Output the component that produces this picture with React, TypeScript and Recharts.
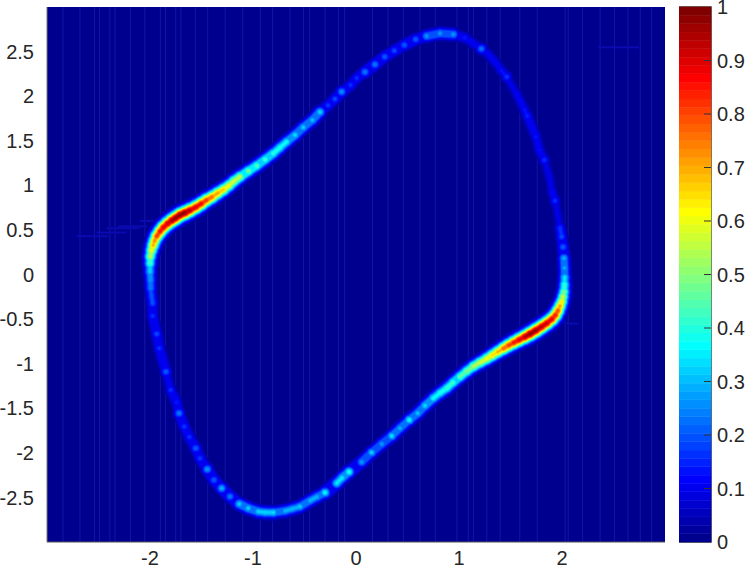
import React from "react";
import { Bar, BarChart, ReferenceArea, ReferenceLine, Scatter, ScatterChart, XAxis, YAxis } from "recharts";

const xTicks = [-2, -1, 0, 1, 2];
const yTicks = [-2.5, -2, -1.5, -1, -0.5, 0, 0.5, 1, 1.5, 2, 2.5];
const barTicks = [0, 0.1, 0.2, 0.3, 0.4, 0.5, 0.6, 0.7, 0.8, 0.9, 1];

// limit cycle, going round from the lower left
const cycleX = [
  -1.935, -1.91, -1.845, -1.822, -1.799, -1.741, -1.718, -1.667, -1.618, -1.556, -1.515, -1.444, -1.379, -1.304, -1.223, -1.133,
  -1.046, -0.949, -0.883, -0.803, -0.689, -0.621, -0.544, -0.447, -0.379, -0.301, -0.187, -0.136, -0.068, 0.055, 0.152, 0.25,
  0.347, 0.427, 0.517, 0.599, 0.67, 0.75, 0.816, 0.881, 0.942, 1.01, 1.073, 1.139, 1.204, 1.269,
  1.32, 1.374, 1.43, 1.479, 1.529, 1.58, 1.636, 1.689, 1.748, 1.803, 1.854, 1.903, 1.937, 1.961,
  1.981, 1.997, 2.01, 2.019, 2.024, 2.026, 2.024, 2.019, 2.01, 1.997, 1.981, 1.954, 1.932, 1.903, 1.883, 1.828,
  1.78, 1.748, 1.663, 1.634, 1.56, 1.512, 1.463, 1.408, 1.35, 1.284, 1.217, 1.139, 1.058, 0.945, 0.816, 0.686,
  0.58, 0.469, 0.372, 0.279, 0.184, 0.087, 0.007, -0.053, -0.139, -0.204, -0.272, -0.35, -0.424, -0.512, -0.592, -0.673,
  -0.738, -0.803, -0.883, -0.964, -1.044, -1.126, -1.184, -1.233, -1.286, -1.34, -1.398, -1.45, -1.5, -1.553, -1.612, -1.66,
  -1.709, -1.752, -1.789, -1.83, -1.871, -1.903, -1.935, -1.956, -1.971, -1.985, -1.997, -2, -2, -1.995, -1.993, -1.985,
  -1.974, -1.974,
];
const cycleY = [
  -0.667, -0.827, -1.09, -1.202, -1.295, -1.433, -1.556, -1.706, -1.822, -1.948, -2.061, -2.184, -2.304, -2.397, -2.491, -2.573,
  -2.621, -2.659, -2.668, -2.67, -2.651, -2.629, -2.603, -2.536, -2.494, -2.446, -2.341, -2.281, -2.214, -2.102, -1.996, -1.9,
  -1.811, -1.724, -1.631, -1.556, -1.471, -1.388, -1.328, -1.276, -1.211, -1.146, -1.087, -1.031, -0.987, -0.945,
  -0.908, -0.869, -0.83, -0.796, -0.765, -0.734, -0.701, -0.667, -0.626, -0.585, -0.544, -0.499, -0.454, -0.404,
  -0.353, -0.305, -0.247, -0.193, -0.112, -0.031, 0.073, 0.182, 0.308, 0.424, 0.521, 0.704, 0.827, 0.928, 1.071, 1.284,
  1.396, 1.545, 1.777, 1.852, 2.024, 2.117, 2.217, 2.293, 2.386, 2.469, 2.531, 2.592, 2.655, 2.693, 2.704, 2.674,
  2.637, 2.573, 2.509, 2.442, 2.356, 2.27, 2.203, 2.124, 2.049, 1.968, 1.897, 1.822, 1.732, 1.65, 1.564, 1.489,
  1.424, 1.359, 1.289, 1.22, 1.16, 1.096, 1.048, 0.998, 0.953, 0.914, 0.869, 0.835, 0.796, 0.757, 0.72, 0.693,
  0.667, 0.633, 0.605, 0.57, 0.527, 0.482, 0.428, 0.376, 0.325, 0.269, 0.2, 0.123, 0.031, -0.062, -0.155, -0.241,
  -0.323, -0.465,
];
const cycleV = [
  0.2, 0.17, 0.22, 0.12, 0.17, 0.15, 0.25, 0.18, 0.17, 0.22, 0.18, 0.28, 0.22, 0.3, 0.25, 0.33,
  0.33, 0.33, 0.33, 0.35, 0.3, 0.3, 0.33, 0.3, 0.3, 0.38, 0.35, 0.36, 0.4, 0.28, 0.33, 0.28,
  0.35, 0.3, 0.38, 0.32, 0.35, 0.38, 0.4, 0.42, 0.44, 0.47, 0.5, 0.55, 0.58, 0.62,
  0.66, 0.7, 0.78, 0.82, 0.86, 0.9, 0.95, 1, 0.98, 0.95, 0.93, 0.9, 0.85, 0.8,
  0.72, 0.65, 0.57, 0.5, 0.42, 0.35, 0.3, 0.3, 0.22, 0.2, 0.17, 0.1, 0.17, 0.12, 0.1, 0.17,
  0.13, 0.14, 0.16, 0.13, 0.12, 0.1, 0.18, 0.13, 0.12, 0.12, 0.24, 0.12, 0.15, 0.28, 0.28, 0.28,
  0.22, 0.22, 0.2, 0.22, 0.25, 0.25, 0.17, 0.17, 0.27, 0.2, 0.18, 0.34, 0.32, 0.33, 0.35, 0.38,
  0.4, 0.42, 0.44, 0.46, 0.5, 0.56, 0.58, 0.62, 0.68, 0.72, 0.78, 0.82, 0.88, 0.9, 0.95, 1,
  0.99, 0.98, 0.97, 0.93, 0.9, 0.87, 0.82, 0.74, 0.7, 0.62, 0.55, 0.44, 0.33, 0.28, 0.25, 0.2,
  0.2, 0.17,
];

// faint vertical stripes in the image
const stripes = [
  -2.845, -2.68, -2.54, -2.49, -2.39, -2.34, -2.19, -2.05, -1.9, -1.85, -1.75, -1.7, -1.56, -1.44, -1.27, -1.1, -0.93, -0.81, -0.64,
  -0.51, -0.45, -0.3, -0.17, -0.11, 0.16, 0.31, 0.46, 0.62, 0.77, 0.98, 1.09, 1.14, 1.27, 1.4, 1.59, 1.76, 2.03, 2.06, 2.2, 2.37,
  2.51, 2.64, 2.76, 2.87,
];
// faint horizontal streaks: x1, x2, y
const streaks = [
  [-2.71, -2.41, 0.43],
  [-2.52, -2.23, 0.47],
  [-2.42, -2.1, 0.52],
  [-2.31, -2.03, 0.54],
  [-2.1, -1.93, 0.6],
  [2.35, 2.75, 2.55],
  [2.03, 2.16, -0.55],
];

const COLOR_STEPS = 64;
const FONT = "'Liberation Sans', Arial, sans-serif";
// plot size over the axis span, to reach the next point from the one the scale placed
const PX_X = 618 / 6;
const PX_Y = 535 / 6;

function jet(t: number) {
  const c = (v: number) => Math.round(255 * Math.max(0, Math.min(1, 1.5 - Math.abs(4 * t - v))));
  return `rgb(${c(3)},${c(2)},${c(1)})`;
}

const cycle = cycleX.map((x, i) => {
  const n = (i + 1) % cycleX.length;
  return { x, y: cycleY[i], v: cycleV[i], nextX: cycleX[n], nextY: cycleY[n], nextV: cycleV[n] };
});
const levels = Array.from({ length: 31 }, (_, i) => (2 * (i + 1)) / COLOR_STEPS);
const stepKeys = Array.from({ length: COLOR_STEPS }, (_, i) => "s" + i);
const barRow = [Object.fromEntries(stepKeys.map((k) => [k, 1 / COLOR_STEPS]))];
const barMarks = barTicks.slice(1, -1).map((y) => ({ x: 1, y }));

// gaussian blob radius at a colour level; the bright ridge is wider than the dim dots
function blobRadius(v: number, level: number) {
  const sigma = 3.3 + 1.2 * v;
  return sigma * Math.sqrt(2 * Math.log(v / level));
}

// contour of the ridge at this colour level: a blob, plus a link to the next point
// when the two are close enough to run together
function contourShape(level: number) {
  return (props: any) => {
    const p = props.payload;
    const fill = jet(level + 1 / COLOR_STEPS);
    const r = blobRadius(p.v, level);
    let link = null;
    if (p.nextV > level) {
      const dx = (p.nextX - p.x) * PX_X;
      const dy = (p.y - p.nextY) * PX_Y;
      const gap = Math.hypot(dx, dy);
      const minV = Math.min(p.v, p.nextV);
      const beaded = gap < 15 && minV >= 0.28 && level < 0.75 * minV;
      if (gap < 9 || beaded || (gap < 26 && level < 0.1)) {
        link = (
          <line
            x1={props.cx}
            y1={props.cy}
            x2={props.cx + dx}
            y2={props.cy + dy}
            stroke={fill}
            strokeWidth={2 * blobRadius(minV, level)}
            strokeLinecap="round"
          />
        );
      }
    }
    return (
      <g>
        <circle cx={props.cx} cy={props.cy} r={r} fill={fill} />
        {link}
      </g>
    );
  };
}

function BarTick({ x, y, payload }: any) {
  return (
    <text x={x + 6} y={y} dy={7} fontSize={20} fontFamily={FONT} fill="#262626">
      {payload.value}
    </text>
  );
}

function BarMark({ cx, cy }: any) {
  return <line x1={cx - 7} x2={cx} y1={cy} y2={cy} stroke="#333" strokeWidth={1} />;
}

export default function App() {
  const tick = { fontSize: 20, fontFamily: FONT, fill: "#262626" };
  return (
    <div style={{ position: "absolute", left: 0, top: 0, width: 747, height: 572, background: "#fff", overflow: "hidden" }}>
      <div style={{ position: "absolute", left: 0, top: 0 }}>
        <ScatterChart width={665} height={572} margin={{ top: 7, right: 0, bottom: 0, left: 0 }}>
          <XAxis
            type="number"
            dataKey="x"
            domain={[-3, 3]}
            ticks={xTicks}
            interval={0}
            height={30}
            tickLine={false}
            tickMargin={3}
            tick={tick}
            axisLine={{ stroke: "#555" }}
          />
          <YAxis
            type="number"
            dataKey="y"
            domain={[-3, 3]}
            ticks={yTicks}
            interval={0}
            width={47}
            tickLine={false}
            tickMargin={7}
            tick={tick}
            axisLine={{ stroke: "#777" }}
          />
          <ReferenceArea x1={-3} x2={3} y1={-3} y2={3} fill="#00008f" fillOpacity={1} stroke="none" />
          {stripes.map((s) => (
            <ReferenceLine key={s} x={s} stroke="#1414a8" strokeWidth={1} />
          ))}
          {streaks.map((s) => (
            <ReferenceLine
              key={s[0]}
              segment={[
                { x: s[0], y: s[2] },
                { x: s[1], y: s[2] },
              ]}
              stroke="#0a0ab0"
              strokeWidth={2}
            />
          ))}
          {levels.map((level) => (
            <Scatter
              key={level}
              data={cycle.filter((p) => p.v > level)}
              shape={contourShape(level)}
              isAnimationActive={false}
            />
          ))}
        </ScatterChart>
      </div>
      <div style={{ position: "absolute", left: 679, top: 0 }}>
        <BarChart
          width={68}
          height={572}
          data={barRow}
          barCategoryGap={0}
          margin={{ top: 7, right: 0, bottom: 30, left: 0 }}
          style={{ overflow: "visible" }}
        >
          <XAxis hide />
          <YAxis
            orientation="right"
            type="number"
            domain={[0, 1]}
            ticks={barTicks}
            interval={0}
            width={36}
            tickSize={0}
            tickMargin={0}
            tickLine={false}
            axisLine={false}
            tick={<BarTick />}
          />
          {stepKeys.map((k, i) => (
            <Bar
              key={k}
              dataKey={k}
              stackId="c"
              fill={jet((i + 1) / COLOR_STEPS)}
              stroke={jet((i + 1) / COLOR_STEPS)}
              strokeWidth={0.5}
              isAnimationActive={false}
            />
          ))}
          <ReferenceArea y1={0} y2={1} fill="none" stroke="#3a3a3a" strokeWidth={1.5} />
        </BarChart>
      </div>
      {/* colorbar tick marks sit over the bars, so they get their own layer */}
      <div style={{ position: "absolute", left: 679, top: 0 }}>
        <ScatterChart width={32} height={572} margin={{ top: 7, right: 0, bottom: 30, left: 0 }}>
          <XAxis type="number" dataKey="x" domain={[0, 1]} hide />
          <YAxis type="number" dataKey="y" domain={[0, 1]} hide />
          <Scatter data={barMarks} shape={<BarMark />} isAnimationActive={false} />
        </ScatterChart>
      </div>
    </div>
  );
}
